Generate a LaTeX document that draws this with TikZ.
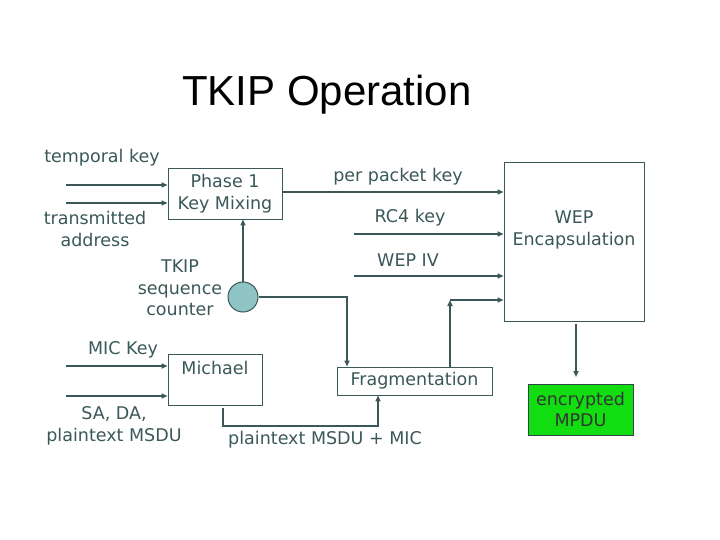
\documentclass[tikz,border=0pt]{standalone}
\usepackage{fontspec}
\setmainfont{DejaVu Sans}
\newfontfamily\titlefont{Liberation Sans}
\usetikzlibrary{arrows.meta}
\definecolor{ink}{HTML}{3A5858}
\definecolor{tealfill}{HTML}{8FC4C4}
\definecolor{mpdugreen}{HTML}{11DD11}
\tikzset{
  lbl/.style={text=ink, font=\fontsize{17.5}{21.5}\selectfont, align=center, inner sep=0pt},
  blk/.style={draw=ink, line width=0.9pt, fill=white, inner sep=0pt},
  flow/.style={draw=ink, line width=2pt, -{Triangle[length=6pt,width=5pt]}},
  wire/.style={draw=ink, line width=1.6pt},
}
\begin{document}
\begin{tikzpicture}[x=1pt,y=-1pt]
\useasboundingbox (0,0) rectangle (720,540);
\node[font=\titlefont\fontsize{42}{46}\selectfont, inner sep=0pt] (title) at (327,95) {TKIP Operation};

% boxes
\node[blk, minimum width=114pt, minimum height=51pt, lbl] (phase) at (225,193.5) {Phase 1\\Key Mixing};
\node[blk, minimum width=140pt, minimum height=159pt] (wep) at (574,241.5) {};
\node[lbl] (weptxt) at (574,230) {WEP\\Encapsulation};
\node[blk, minimum width=155pt, minimum height=28pt, lbl] (frag) at (414.5,381) {Fragmentation};
\node[blk, minimum width=94pt, minimum height=51pt] (mich) at (215,379.5) {};
\node[lbl] (michtxt) at (215,368) {Michael};
\node[draw=ink!80!black, line width=0.9pt, fill=mpdugreen, minimum width=105pt, minimum height=51pt, lbl, text=black!80] (mpdu) at (580.5,409.5) {encrypted\\MPDU};
\node[circle, draw=ink, line width=1pt, fill=tealfill, minimum size=30pt, inner sep=0pt] (ctr) at (243,297) {};

% labels
\node[lbl] (ltk) at (102,158) {temporal key};
\node[lbl] (lta) at (95,229) {transmitted\\address};
\node[lbl] (lseq) at (180,288) {TKIP\\sequence\\counter};
\node[lbl] (lppk) at (398,177) {per packet key};
\node[lbl] (lrc4) at (410,218) {RC4 key};
\node[lbl] (liv) at (408,260) {WEP IV};
\node[lbl] (lmic) at (123,350) {MIC Key};
\node[lbl] (lsa) at (114,426) {SA, DA,\\plaintext MSDU};
\node[lbl] (lpm) at (325,440) {plaintext MSDU + MIC};

% free ends
\coordinate (tk0) at (66,185);
\coordinate (ta0) at (66,203);
\coordinate (mk0) at (66,366);
\coordinate (sa0) at (66,396);
\coordinate (rc0) at (354,234);
\coordinate (iv0) at (354,276);
\coordinate (corner) at (450,300);
\coordinate (enc0) at (576,324);
\coordinate (enc1) at (576,377);

% connectors
\draw[flow] (tk0) -- (tk0 -| phase.west);
\draw[flow] (ta0) -- (ta0 -| phase.west);
\draw[flow] (mk0) -- (mk0 -| mich.west);
\draw[flow] (sa0) -- (sa0 -| mich.west);
\draw[flow] (ctr.north) -- (phase.south -| ctr.north);
\draw[flow] (phase.east |- 0,192) -- (wep.west |- 0,192);
\draw[flow] (rc0) -- (rc0 -| wep.west);
\draw[flow] (iv0) -- (iv0 -| wep.west);
\draw[wire, -{Triangle[length=6pt,width=5pt]}] (ctr.east) -| ([xshift=-67.5pt]frag.north);
\draw[wire, -{Triangle[length=6pt,width=5pt]}] ([xshift=35.5pt]frag.north) -- (corner);
\draw[wire, -{Triangle[length=6pt,width=5pt]}] (corner) -- (corner -| wep.west);
\draw[wire, -{Triangle[length=6pt,width=5pt]}] (enc0) -- (enc1);
\draw[wire, -{Triangle[length=6pt,width=5pt]}] ([xshift=8pt,yshift=-3pt]mich.south) |- (378,426) -- (frag.south -| 378,0);
\end{tikzpicture}
\end{document}
